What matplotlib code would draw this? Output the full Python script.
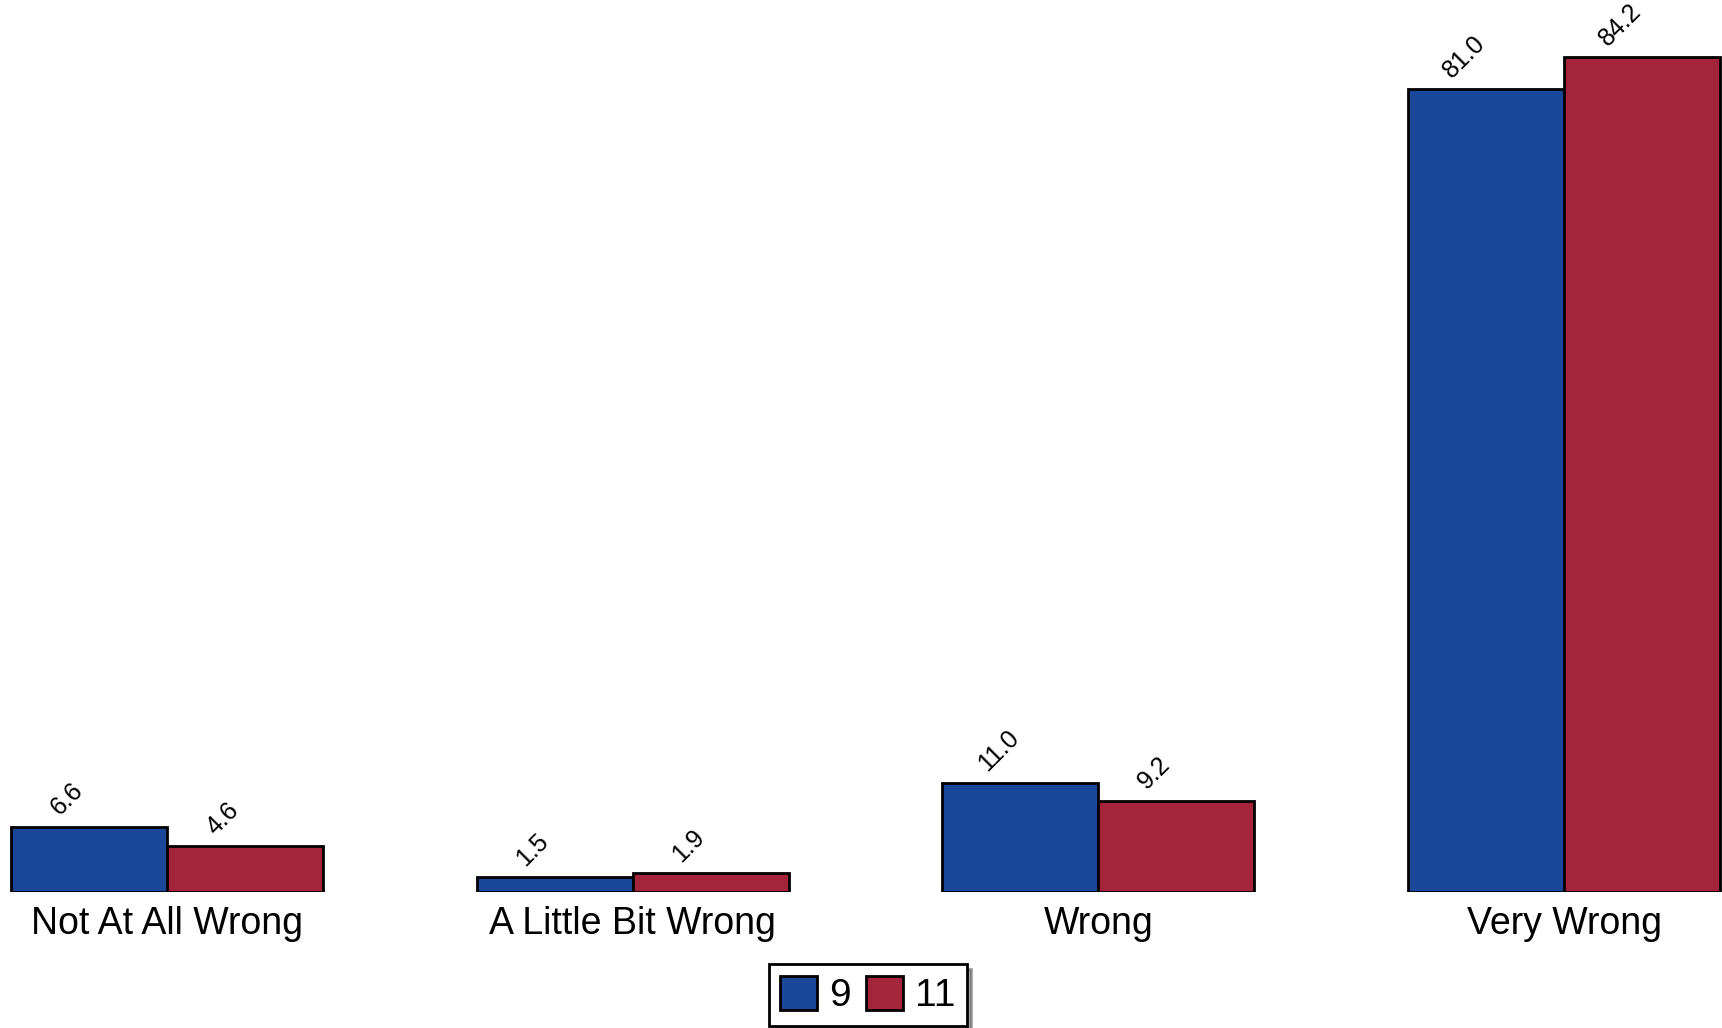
import matplotlib.pyplot as plt
import numpy as np

plt.rcParams['font.family'] = ['Liberation Sans', 'DejaVu Sans']

# data
categories = ['Not At All Wrong', 'A Little Bit Wrong', 'Wrong', 'Very Wrong']
grade9 = [6.6, 1.5, 11.0, 81.0]
grade11 = [4.6, 1.9, 9.2, 84.2]
series_names = ['9', '11']

blue = '#1a4799'
red = '#a3243b'

fig = plt.figure(figsize=(17.22, 10.28), dpi=100)
ax = fig.add_axes([0, 0.1323, 1, 0.8677])

x = np.arange(len(categories))
w = 0.335

b1 = ax.bar(x - w / 2, grade9, w, color=blue, edgecolor='black', linewidth=2, label=series_names[0])
b2 = ax.bar(x + w / 2, grade11, w, color=red, edgecolor='black', linewidth=2, label=series_names[1])

#value labels, rotated
for bars, vals in [(b1, grade9), (b2, grade11)]:
    for rect, v in zip(bars, vals):
        ax.annotate(f'{v:.1f}', (rect.get_x() + rect.get_width() / 2, rect.get_height()),
                    xytext=(-16, 5), textcoords='offset points',
                    ha='center', va='bottom', rotation=45, fontsize=18)

ax.set_xlim(-0.359, 3.339)
ax.set_ylim(0, 90)
ax.set_xticks(x)
ax.set_xticklabels(categories, fontsize=27)
ax.tick_params(axis='x', length=0, pad=10)
ax.set_yticks([])
for s in ax.spines.values():
    s.set_visible(False)

leg = fig.legend(loc='lower center', bbox_to_anchor=(0.504, 0.002), ncol=2, fontsize=28,
                 frameon=True, fancybox=False, shadow={'ox': 3, 'oy': -3}, edgecolor='black',
                 handlelength=0.95, handleheight=0.95, handletextpad=0.3,
                 columnspacing=0.4, borderpad=0.3, borderaxespad=0)
leg.get_frame().set_linewidth(2)

fig.savefig('out.png', dpi=100)
